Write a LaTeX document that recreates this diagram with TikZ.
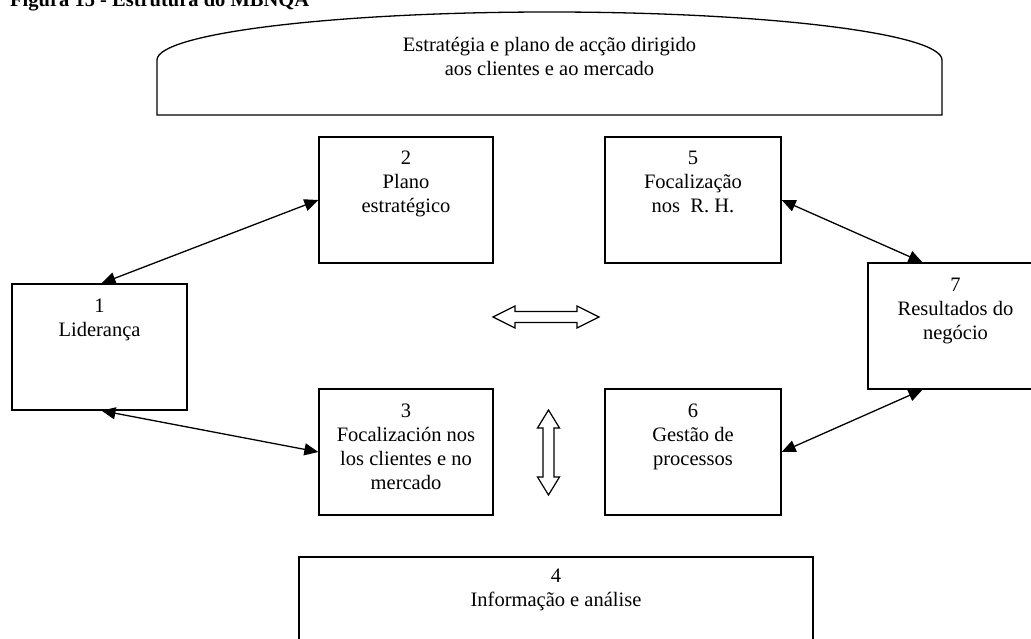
\documentclass[tikz,border=0pt]{standalone}
\usepackage{fontspec}
\setmainfont{Liberation Serif}
\usetikzlibrary{arrows.meta}
\begin{document}
\begin{tikzpicture}[x=1pt,y=-1pt,
  box/.style={draw, line width=1.3pt, minimum width=#1, minimum height=126pt, inner sep=0pt},
  lbl/.style={anchor=north, inner sep=0pt, align=center, font=\fontsize{20.5pt}{24pt}\selectfont},
  link/.style={{Triangle[length=14pt,width=12pt]}-{Triangle[length=14pt,width=12pt]}, line width=1.3pt},
  hollow/.style={draw, line width=1.2pt, line join=miter}]
\useasboundingbox (0,0) rectangle (1031,639);

% title, partly cut by the page top
\node[anchor=base west, inner sep=0pt, font=\bfseries\fontsize{20.5pt}{24pt}\selectfont] (title) at (10,7) {Figura 15 - Estrutura do MBNQA};

% strategy banner
\draw[line width=1.3pt] (157,115) -- (157,60)
  arc[start angle=180, end angle=0, x radius=392.5pt, y radius=48pt]
  -- (942,115) -- cycle;
\node[lbl] (banner) at (549.5,36) {\rule{0pt}{15pt}Estratégia e plano de acção dirigido\\aos clientes e ao mercado};

% criteria boxes
\node[box=175pt] (b1) at (99.5,347) {};
\node[box=174pt] (b2) at (406,200) {};
\node[box=174pt] (b3) at (406,452) {};
\node[box=176pt] (b5) at (693,200) {};
\node[box=176pt] (b6) at (693,452) {};
\node[box=175pt] (b7) at (955.5,326) {};
\node[draw, line width=1.3pt, minimum width=514pt, minimum height=120pt, inner sep=0pt] (b4) at (556,617) {};

\node[lbl] (t1) at ([yshift=-14pt]b1.north) {\rule{0pt}{15pt}1\\Liderança};
\node[lbl] (t2) at ([yshift=-13pt]b2.north) {\rule{0pt}{15pt}2\\Plano\\estratégico};
\node[lbl] (t3) at ([yshift=-14pt]b3.north) {\rule{0pt}{15pt}3\\Focalización nos\\los clientes e no\\mercado};
\node[lbl] (t5) at ([yshift=-13pt]b5.north) {\rule{0pt}{15pt}5\\Focalização\\nos~ R. H.};
\node[lbl] (t6) at ([yshift=-14pt]b6.north) {\rule{0pt}{15pt}6\\Gestão de\\processos};
\node[lbl] (t7) at ([yshift=-14pt]b7.north) {\rule{0pt}{15pt}7\\Resultados do\\negócio};
\node[lbl] (t4) at ([yshift=-11pt]b4.north) {\rule{0pt}{15pt}4\\Informação e análise};

% links between criteria
\draw[link] (b2.west) -- ([xshift=2pt]b1.north);
\draw[link] ([xshift=2pt]b1.south) -- (b3.west);
\draw[link] (b5.east) -- ([xshift=-33pt]b7.north);
\draw[link] (b6.east) -- ([xshift=-33pt]b7.south);

% hollow two-way arrows
\draw[hollow] (493,317) -- (515,306) -- (515,311.5) -- (577,311.5) -- (577,306)
  -- (599,317) -- (577,328) -- (577,322.5) -- (515,322.5) -- (515,328) -- cycle;
\draw[hollow] (548.5,410) -- (559.5,428) -- (554,428) -- (554,477) -- (559.5,477)
  -- (548.5,495) -- (537.5,477) -- (543,477) -- (543,428) -- (537.5,428) -- cycle;
\end{tikzpicture}
\end{document}
